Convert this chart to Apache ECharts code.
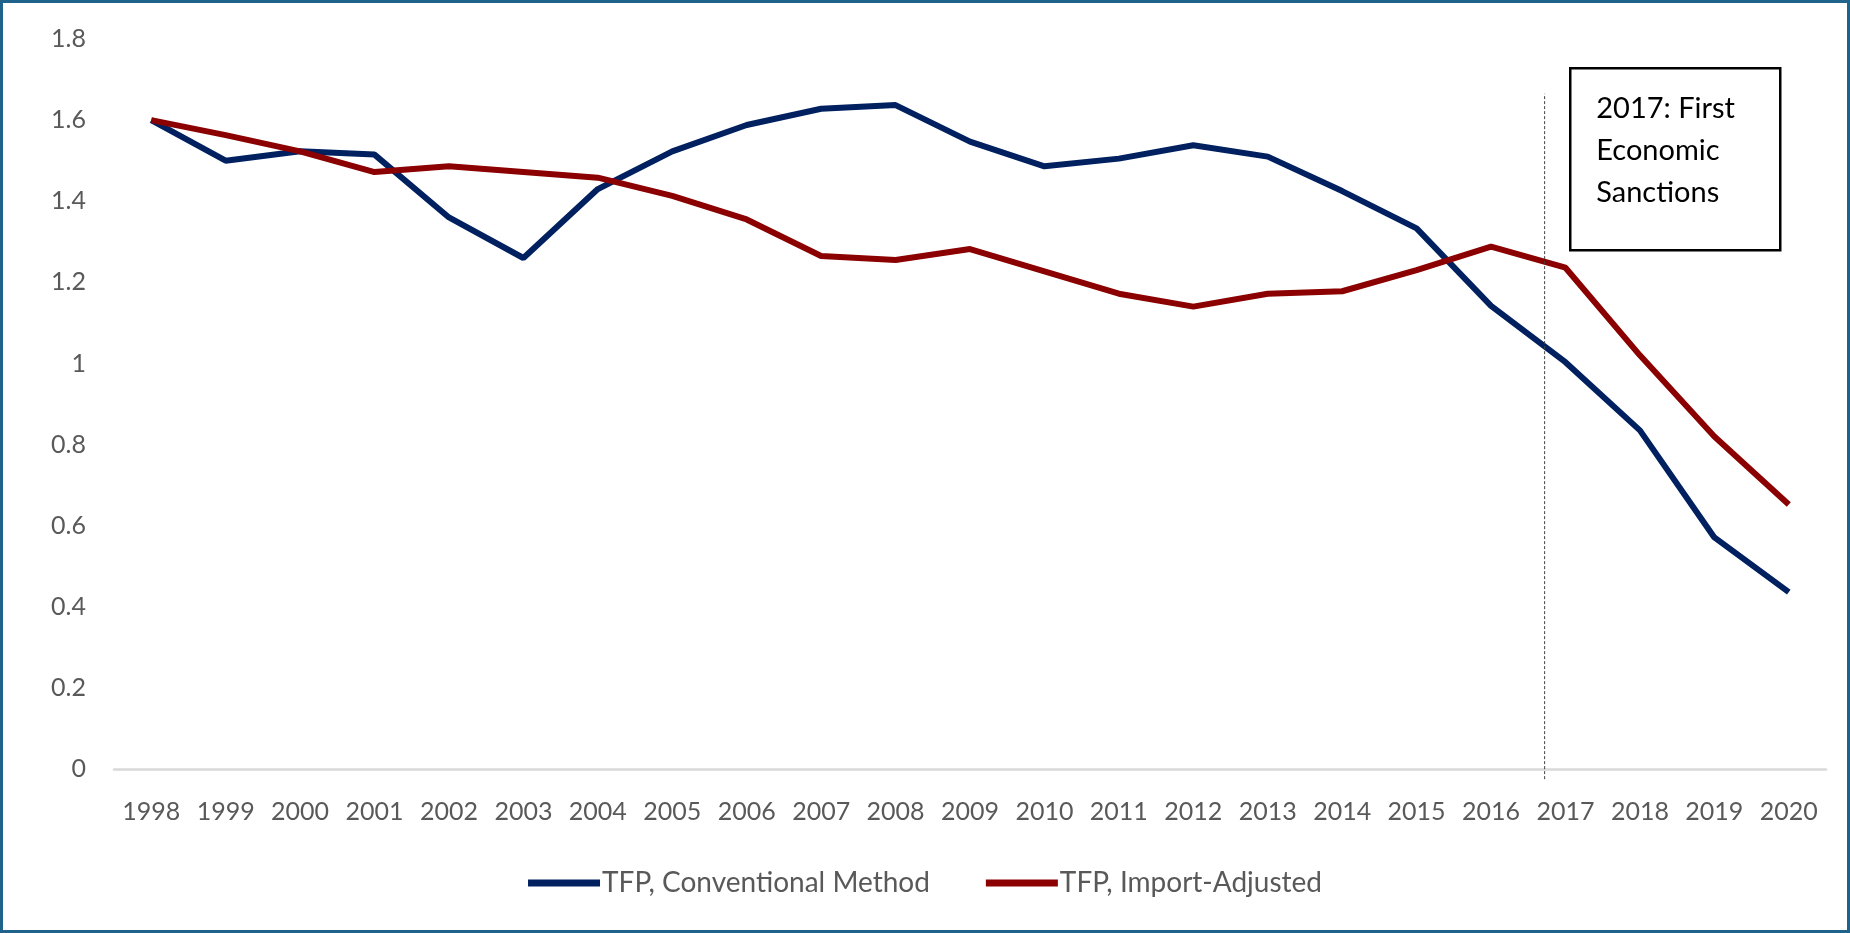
<!DOCTYPE html>
<html>
<head>
<meta charset="utf-8">
<script src="https://cdn.jsdelivr.net/npm/echarts@6/dist/echarts.min.js"></script>
<style>
html,body{margin:0;padding:0;background:#fff;}
#frame{width:1850px;height:933px;box-sizing:border-box;border:3px solid #1f628c;background:#fff;}
#chart{width:100%;height:100%;}
</style>
</head>
<body>
<div id="frame"><div id="chart"></div></div>
<script>
const years = ['1998','1999','2000','2001','2002','2003','2004','2005','2006','2007','2008','2009','2010','2011','2012','2013','2014','2015','2016','2017','2018','2019','2020'];
const conventional = [1.60,1.50,1.523,1.515,1.36,1.26,1.43,1.523,1.588,1.628,1.637,1.547,1.486,1.505,1.538,1.51,1.425,1.333,1.142,1.003,0.835,0.571,0.436];
const importAdjusted = [1.60,1.563,1.523,1.472,1.486,1.472,1.458,1.413,1.355,1.265,1.255,1.282,1.227,1.172,1.14,1.172,1.178,1.23,1.288,1.236,1.02,0.82,0.652];
const yTicks = [0,0.2,0.4,0.6,0.8,1,1.2,1.4,1.6,1.8];
const sanctionPos = 18.72;      // position between 2016 and 2017 on category scale
const sanctionLine = [-0.025, 1.665];
const noteLines = ['2017: First','Economic','Sanctions'];

const chart = echarts.init(document.getElementById('chart'));
const textColor = '#595959';
const font = 'Lato, "Open Sans", sans-serif';
chart.setOption({
  animation:false,
  grid:{left:111,right:21,top:36,bottom:161},
  legend:{
    bottom:28,left:'center',
    itemWidth:72,itemHeight:7,itemGap:56,
    icon:'rect',
    textStyle:{color:textColor,fontSize:28,fontFamily:font,padding:[0,0,0,-3]},
    data:['TFP, Conventional Method','TFP, Import-Adjusted']
  },
  xAxis:[{
    type:'category',data:years,boundaryGap:true,
    axisLine:{lineStyle:{color:'#d9d9d9',width:2.5}},
    axisTick:{show:false},
    axisLabel:{color:textColor,fontSize:25,fontFamily:font,margin:30,interval:0}
  },{
    type:'value',min:-0.5,max:22.5,show:false
  }],
  yAxis:{
    type:'value',min:0,max:1.8,interval:0.2,
    splitLine:{show:false},
    axisLine:{show:false},axisTick:{show:false},
    axisLabel:{color:textColor,fontSize:25,fontFamily:font,margin:28,
      formatter:v=>{const t=yTicks.find(x=>Math.abs(x-v)<1e-6);return t===undefined?'':String(t);}}
  },
  series:[{
    name:'TFP, Conventional Method',type:'line',data:conventional,
    symbol:'none',lineStyle:{color:'#002060',width:6},itemStyle:{color:'#002060'}
  },{
    name:'TFP, Import-Adjusted',type:'line',data:importAdjusted,
    symbol:'none',lineStyle:{color:'#8b0000',width:6},itemStyle:{color:'#8b0000'}
  },{
    name:'sanctions',type:'line',xAxisIndex:1,clip:false,
    data:sanctionLine.map(v=>[sanctionPos,v]),
    symbol:'none',silent:true,
    lineStyle:{color:'#404040',width:1,type:[3,2]}
  }],
  graphic:[{
    type:'group',left:1566,top:64,
    children:[{
      type:'rect',shape:{x:0,y:0,width:210,height:182},
      style:{fill:'#fff',stroke:'#000',lineWidth:2.5}
    },{
      type:'text',left:26,top:19,
      style:{text:noteLines.join('\n'),fill:'#000',font:'29px Lato, "Open Sans", sans-serif',lineHeight:42}
    }]
  }]
});
</script>
</body>
</html>
